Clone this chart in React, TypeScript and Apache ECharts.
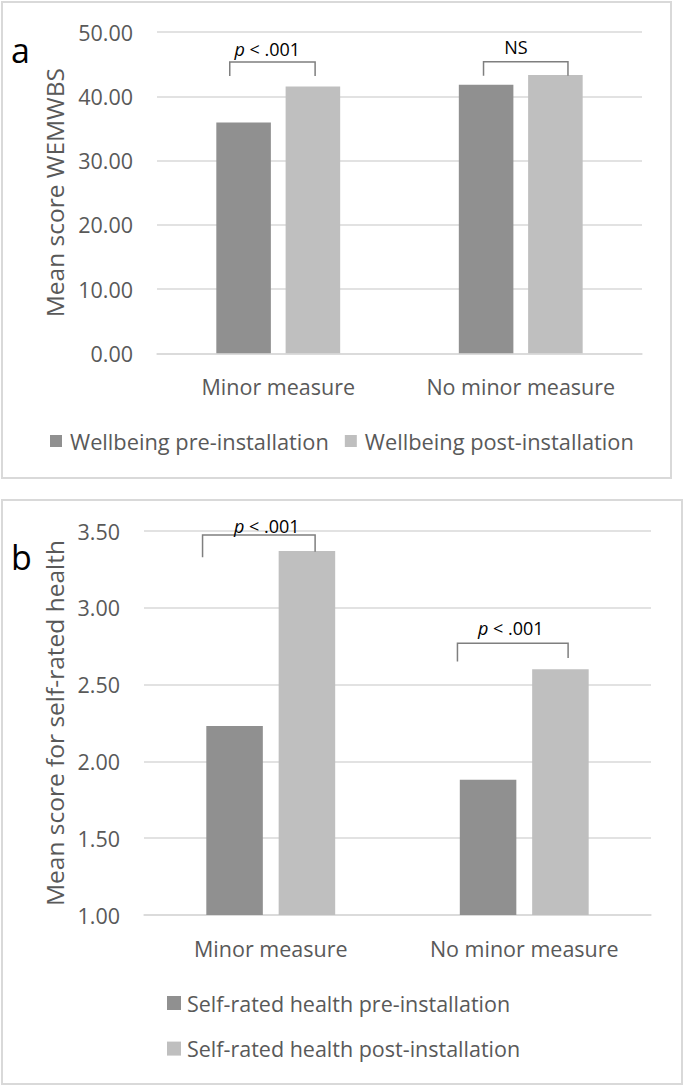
import React, { useEffect, useRef } from "react";
import * as echarts from "echarts";

const CATEGORIES = ["Minor measure", "No minor measure"];

const WELLBEING_SERIES = ["Wellbeing pre-installation", "Wellbeing post-installation"];
const WELLBEING_PRE = [35.9, 41.8];
const WELLBEING_POST = [41.5, 43.3];

const HEALTH_SERIES = ["Self-rated health pre-installation", "Self-rated health post-installation"];
const HEALTH_PRE = [2.23, 1.88];
const HEALTH_POST = [3.37, 2.6];

const TITLE_A = "Mean score WEMWBS";
const TITLE_B = "Mean score for self-rated health";

// significance annotations (value units on y; band fractions on x)
const SIG_A = [
  { cat: 0, label: "p", left: -0.2, right: 0.152, top: 45.33, leftEnd: 43.15, rightEnd: 43.15, textY: 47.4, textX: -0.045 },
  { cat: 1, label: "NS", left: -0.1535, right: 0.1947, top: 45.38, leftEnd: 43.2, rightEnd: 43.2, textY: 47.7, textX: -0.02 },
];
const SIG_B = [
  { cat: 0, label: "p", left: -0.269, right: 0.175, top: 3.474, leftEnd: 3.329, rightEnd: 3.365, textY: 3.533, textX: -0.016 },
  { cat: 1, label: "p", left: -0.2635, right: 0.173, top: 2.769, leftEnd: 2.651, rightEnd: 2.673, textY: 2.87, textX: -0.053 },
];

const DARK = "#909090";
const LIGHT = "#bfbfbf";
const GRID = "#d9d9d9";
const TEXT = "#595959";
const FONT = "'Open Sans', sans-serif";

function bracketRenderer(sig: any[]) {
  return (params: any, api: any) => {
    const s = sig[params.dataIndex];
    const band = api.size([1, 0])[0];
    const c = api.coord([s.cat, s.top]);
    const cx = c[0];
    const yTop = c[1];
    const yL = api.coord([s.cat, s.leftEnd])[1];
    const yR = api.coord([s.cat, s.rightEnd])[1];
    const yT = api.coord([s.cat, s.textY])[1];
    const xl = cx + s.left * band;
    const xr = cx + s.right * band;
    const xt = cx + s.textX * band;
    const textEl =
      s.label === "p"
        ? {
            type: "text",
            x: xt,
            y: yT,
            style: {
              text: "{i|p}{n| < .001}",
              align: "center",
              verticalAlign: "middle",
              fontSize: 18,
              fontFamily: FONT,
              fill: "#000",
              rich: {
                i: { fontStyle: "italic", fontSize: 18, fontFamily: FONT, fill: "#000", color: "#000" },
                n: { fontSize: 18, fontFamily: FONT, fill: "#000", color: "#000" },
              },
            },
          }
        : {
            type: "text",
            x: xt,
            y: yT,
            style: {
              text: s.label,
              align: "center",
              verticalAlign: "middle",
              fontSize: 18,
              fontFamily: FONT,
              fill: "#000",
            },
          };
    return {
      type: "group",
      children: [
        {
          type: "polyline",
          shape: { points: [[xl, yL], [xl, yTop], [xr, yTop], [xr, yR]] },
          style: { stroke: "#7f7f7f", lineWidth: 1.5, fill: null },
        },
        textEl,
      ],
    };
  };
}

export default function App() {
  const ref = useRef<HTMLDivElement>(null);

  useEffect(() => {
    if (!ref.current) return;
    const chart = echarts.init(ref.current, null, { renderer: "svg" });

    const yAxisCommon = {
      type: "value",
      nameLocation: "middle",
      nameRotate: 90,
      nameTextStyle: { fontSize: 24.5, color: TEXT, fontFamily: FONT },
      axisLine: { show: false },
      axisTick: { show: false },
      splitLine: { lineStyle: { color: GRID, width: 1.5 } },
      axisLabel: {
        color: TEXT,
        fontSize: 21.5,
        fontFamily: FONT,
        margin: 24,
        formatter: (v: number) => v.toFixed(2),
      },
    };
    const xAxisCommon = {
      type: "category",
      data: CATEGORIES,
      axisLine: { show: true, lineStyle: { color: GRID, width: 1.5 } },
      axisTick: { show: false },
      axisLabel: { color: TEXT, fontSize: 21.5, fontFamily: FONT, margin: 22, interval: 0 },
    };

    chart.setOption({
      animation: false,
      backgroundColor: "#ffffff",
      textStyle: { fontFamily: FONT },
      grid: [
        { left: 157, top: 32, width: 485, height: 321.3 },
        { left: 144, top: 531, width: 507, height: 384 },
      ],
      xAxis: [
        { ...xAxisCommon, gridIndex: 0 },
        { ...xAxisCommon, gridIndex: 1 },
      ],
      yAxis: [
        { ...yAxisCommon, gridIndex: 0, min: 0, max: 50, interval: 10, name: TITLE_A, nameGap: 86 },
        { ...yAxisCommon, gridIndex: 1, min: 1, max: 3.5, interval: 0.5, name: TITLE_B, nameGap: 76 },
      ],
      legend: [
        {
          data: WELLBEING_SERIES,
          orient: "horizontal",
          left: 50,
          top: 429,
          padding: 0,
          itemWidth: 12,
          itemHeight: 12,
          itemGap: 16,
          icon: "rect",
          textStyle: { color: TEXT, fontSize: 21.8, fontFamily: FONT, lineHeight: 24, padding: [0, 0, 0, 3] },
        },
        {
          data: HEALTH_SERIES,
          orient: "vertical",
          left: 167,
          top: 991,
          padding: 0,
          itemWidth: 14,
          itemHeight: 14,
          itemGap: 21.6,
          icon: "rect",
          textStyle: { color: TEXT, fontSize: 21.5, fontFamily: FONT, lineHeight: 24, padding: [0, 0, 0, 1] },
        },
      ],
      series: [
        {
          type: "bar",
          name: WELLBEING_SERIES[0],
          xAxisIndex: 0,
          yAxisIndex: 0,
          data: WELLBEING_PRE,
          barWidth: "22.5%",
          barGap: "27%",
          itemStyle: { color: DARK },
        },
        {
          type: "bar",
          name: WELLBEING_SERIES[1],
          xAxisIndex: 0,
          yAxisIndex: 0,
          data: WELLBEING_POST,
          barWidth: "22.5%",
          barGap: "27%",
          itemStyle: { color: LIGHT },
        },
        {
          type: "bar",
          name: HEALTH_SERIES[0],
          xAxisIndex: 1,
          yAxisIndex: 1,
          data: HEALTH_PRE,
          barWidth: "22.3%",
          barGap: "28%",
          itemStyle: { color: DARK },
        },
        {
          type: "bar",
          name: HEALTH_SERIES[1],
          xAxisIndex: 1,
          yAxisIndex: 1,
          data: HEALTH_POST,
          barWidth: "22.3%",
          barGap: "28%",
          itemStyle: { color: LIGHT },
        },
        {
          type: "custom",
          name: "sigA",
          xAxisIndex: 0,
          yAxisIndex: 0,
          clip: false,
          silent: true,
          data: SIG_A.map((s) => [s.cat, s.top]),
          renderItem: bracketRenderer(SIG_A),
          z: 5,
        },
        {
          type: "custom",
          name: "sigB",
          xAxisIndex: 1,
          yAxisIndex: 1,
          clip: false,
          silent: true,
          data: SIG_B.map((s) => [s.cat, s.top]),
          renderItem: bracketRenderer(SIG_B),
          z: 5,
        },
      ],
      graphic: [
        {
          type: "rect",
          shape: { x: 2, y: 2, width: 669, height: 476 },
          style: { fill: null, stroke: GRID, lineWidth: 2 },
          silent: true,
        },
        {
          type: "rect",
          shape: { x: 2, y: 500, width: 680, height: 584 },
          style: { fill: null, stroke: GRID, lineWidth: 2 },
          silent: true,
        },
        {
          type: "text",
          x: 11,
          y: 33,
          style: { text: "a", fontSize: 34, fontFamily: FONT, fill: "#000", textBaseline: "alphabetic", verticalAlign: "alphabetic" },
          silent: true,
        },
        {
          type: "text",
          x: 11,
          y: 540,
          style: { text: "b", fontSize: 34, fontFamily: FONT, fill: "#000", textBaseline: "alphabetic", verticalAlign: "alphabetic" },
          silent: true,
        },
      ],
    });

    return () => chart.dispose();
  }, []);

  return (
    <div
      ref={ref}
      style={{ position: "absolute", left: 0, top: 0, width: 685, height: 1086, background: "#fff" }}
    />
  );
}
